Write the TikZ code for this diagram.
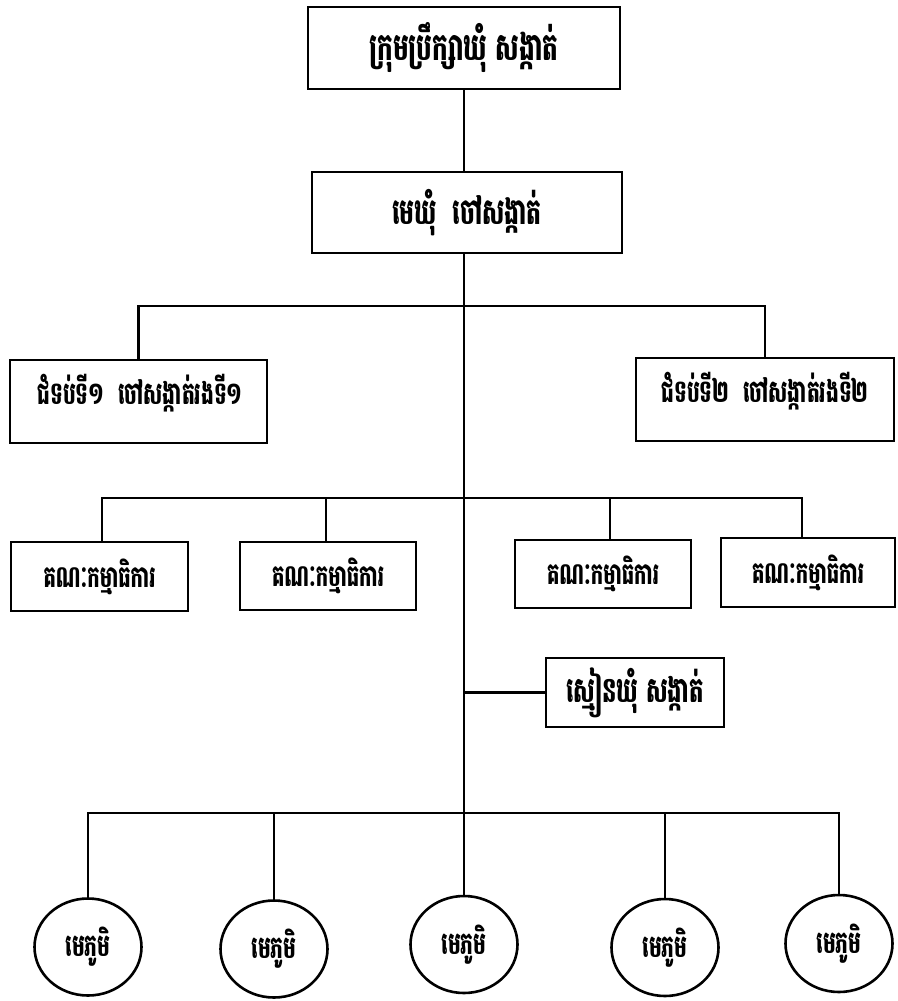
\documentclass[tikz,border=0pt]{standalone}
\usepackage{fontspec}
\usetikzlibrary{shapes.geometric}
\newfontfamily\kh[Script=Khmer,FakeStretch=0.65]{Battambang}
\begin{document}
\begin{tikzpicture}[x=1pt,y=-1pt,
  ln/.style={line width=2.6pt,draw=black},
  box/.style={ln,rectangle,inner sep=0pt,fill=white},
  txt/.style={font=\kh\bfseries\fontsize{30}{34}\selectfont,inner sep=0pt},
  oval/.style={ln,ellipse,inner sep=0pt,minimum width=107pt,minimum height=97pt,font=\kh\bfseries\fontsize{31}{35}\selectfont}]
\useasboundingbox[fill=white] (0,0) rectangle (897,1001);
% boxes
\node[box,minimum width=312pt,minimum height=82pt,font=\kh\bfseries\fontsize{38}{42}\selectfont] (top) at (464,48) {ក្រុមប្រឹក្សាឃុំ សង្កាត់};
\node[box,minimum width=310pt,minimum height=81pt,font=\kh\bfseries\fontsize{36}{40}\selectfont] (mid) at (467,212.5) {មេឃុំ\ \ ចៅសង្កាត់};
\node[box,minimum width=257pt,minimum height=83pt] (dep1) at (138.5,401.5) {};
\node[txt,font=\kh\bfseries\fontsize{31}{35}\selectfont] (dep1t) at (140,393) {ជំទប់ទី១\ \ ចៅសង្កាត់រងទី១};
\node[box,minimum width=258pt,minimum height=83pt] (dep2) at (765,399.5) {};
\node[txt,font=\kh\bfseries\fontsize{31}{35}\selectfont] (dep2t) at (765,391) {ជំទប់ទី២\ \ ចៅសង្កាត់រងទី២};
\node[box,txt,minimum width=177pt,minimum height=69pt] (com1) at (99.5,576.5) {គណៈកម្មាធិការ};
\node[box,txt,minimum width=176pt,minimum height=68pt] (com2) at (328,576) {គណៈកម្មាធិការ};
\node[box,txt,minimum width=176pt,minimum height=68pt] (com3) at (603,574) {គណៈកម្មាធិការ};
\node[box,txt,minimum width=174pt,minimum height=69pt] (com4) at (808,572.5) {គណៈកម្មាធិការ};
\node[box,txt,minimum width=178pt,minimum height=69pt,font=\kh\bfseries\fontsize{35}{39}\selectfont] (clerk) at (635,692.5) {ស្មៀនឃុំ សង្កាត់};
\node[oval] (v1) at (88,947) {មេភូមិ};
\node[oval] (v2) at (274,949) {មេភូមិ};
\node[oval] (v3) at (464,944.5) {មេភូមិ};
\node[oval] (v4) at (665,947.5) {មេភូមិ};
\node[oval] (v5) at (839,943.5) {មេភូមិ};
% bus coordinates
\coordinate (dl) at (138.5,306);
\coordinate (dr) at (765,306);
\coordinate (cl) at (102,498);
\coordinate (c2) at (326,498);
\coordinate (c3) at (610,498);
\coordinate (cr) at (802,498);
\coordinate (vl) at (88,813);
\coordinate (vr) at (839,813);
% connectors
\draw[ln] (top.south) -- (top.south |- mid.north);
\draw[ln] (top.south |- mid.south) -- (v3.north);
\draw[ln] (dep1.north) -- (dl) -- (dr) -- (dep2.north);
\draw[ln,line cap=rect] (cl) -- (cr);
\draw[ln] (cl) -- (cl |- com1.north);
\draw[ln] (c2) -- (c2 |- com2.north);
\draw[ln] (c3) -- (c3 |- com3.north);
\draw[ln] (cr) -- (cr |- com4.north);
\draw[ln] (clerk.west) -- (clerk.west -| v3.north);
\draw[ln] (v1.north) -- (vl) -- (vr) -- (v5.north);
\draw[ln] (v2.north) -- (v2.north |- vl);
\draw[ln] (v4.north) -- (v4.north |- vl);
\end{tikzpicture}
\end{document}
